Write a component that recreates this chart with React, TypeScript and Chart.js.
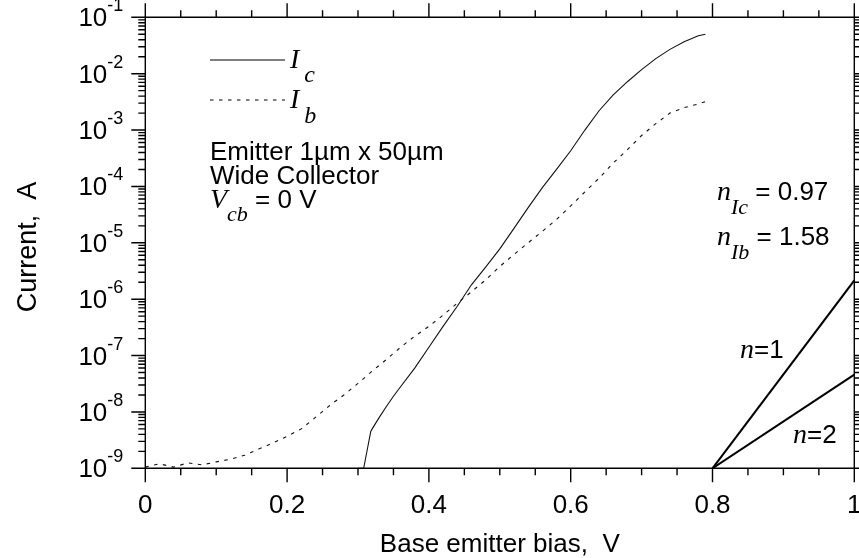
import React, { useEffect, useRef } from "react";
import { Chart, registerables } from "chart.js";

Chart.register(...registerables);

// Base current Ib (A) against base-emitter bias (V)
const ibBias = [0, 0.02, 0.04, 0.06, 0.08, 0.1, 0.12, 0.14, 0.16, 0.18, 0.2, 0.22, 0.24, 0.26, 0.28, 0.3, 0.32, 0.34, 0.36, 0.38, 0.4, 0.42, 0.44, 0.46, 0.48, 0.5, 0.52, 0.54, 0.56, 0.58, 0.6, 0.62, 0.64, 0.66, 0.68, 0.7, 0.72, 0.74, 0.76, 0.78, 0.79];
const ibAmps = [1.05e-9, 1.2e-9, 1.05e-9, 1.25e-9, 1.15e-9, 1.3e-9, 1.45e-9, 1.7e-9, 2.2e-9, 2.8e-9, 3.7e-9, 5.0e-9, 8.0e-9, 1.3e-8, 2.0e-8, 3.2e-8, 5.3e-8, 8.5e-8, 1.4e-7, 2.2e-7, 3.3e-7, 5.2e-7, 8.5e-7, 1.35e-6, 2.2e-6, 3.8e-6, 6.2e-6, 1.0e-5, 1.6e-5, 2.6e-5, 4.5e-5, 8.0e-5, 1.4e-4, 2.6e-4, 4.5e-4, 8.0e-4, 1.3e-3, 2.0e-3, 2.5e-3, 2.9e-3, 3.2e-3];

// Collector current Ic (A) against base-emitter bias (V)
const icBias = [0.3, 0.308, 0.318, 0.32, 0.33, 0.34, 0.35, 0.36, 0.38, 0.4, 0.42, 0.44, 0.46, 0.48, 0.5, 0.52, 0.54, 0.56, 0.58, 0.6, 0.62, 0.64, 0.66, 0.68, 0.7, 0.72, 0.74, 0.76, 0.78, 0.79];
const icAmps = [1e-9, 1e-9, 4.5e-9, 5.0e-9, 8e-9, 1.25e-8, 1.9e-8, 2.8e-8, 6e-8, 1.4e-7, 3.3e-7, 7.5e-7, 1.8e-6, 3.7e-6, 7.8e-6, 1.8e-5, 4.2e-5, 9.5e-5, 2.0e-4, 4.3e-4, 1.0e-3, 2.2e-3, 4.2e-3, 7.2e-3, 1.18e-2, 1.85e-2, 2.7e-2, 3.7e-2, 4.7e-2, 5.0e-2];

// Ideality reference slopes n=1 and n=2
const refBias = [0.8, 1.0];
const refN1 = [1e-9, 2.15e-6];
const refN2 = [1e-9, 4.6e-8];

// Axis ticks
const xMajorTicks = [0, 0.2, 0.4, 0.6, 0.8, 1];
const xTickLabels = ["0", "0.2", "0.4", "0.6", "0.8", "1"];
const xMinorTicks = [0.05, 0.1, 0.15, 0.25, 0.3, 0.35, 0.45, 0.5, 0.55, 0.65, 0.7, 0.75, 0.85, 0.9, 0.95];
const yDecades = [-9, -8, -7, -6, -5, -4, -3, -2, -1];
const yMinorMultipliers = [2, 3, 4, 5, 6, 7, 8, 9];

const SANS = '"Liberation Sans", Arial, sans-serif';
const SERIF = '"Liberation Serif", "Times New Roman", serif';

type Run = { text: string; font: string; dy?: number; dx?: number };

function runsWidth(ctx: CanvasRenderingContext2D, runs: Run[]) {
  let w = 0;
  for (const r of runs) {
    ctx.font = r.font;
    w += ctx.measureText(r.text).width + (r.dx || 0);
  }
  return w;
}

function drawRuns(ctx: CanvasRenderingContext2D, runs: Run[], x: number, y: number, align: "left" | "center" | "right" = "left") {
  const w = runsWidth(ctx, runs);
  let cx = align === "left" ? x : align === "center" ? x - w / 2 : x - w;
  ctx.textAlign = "left";
  ctx.textBaseline = "alphabetic";
  for (const r of runs) {
    ctx.font = r.font;
    cx += r.dx || 0;
    ctx.fillText(r.text, cx, y + (r.dy || 0));
    cx += ctx.measureText(r.text).width;
  }
}

const framePlugin = {
  id: "frameAndText",
  afterDatasetsDraw(chart: any) {
    const ctx: CanvasRenderingContext2D = chart.ctx;
    const xs = chart.scales.x;
    const ys = chart.scales.y;
    const { left, right, top, bottom } = chart.chartArea;
    const MAJ = 14;
    const MIN = 7;

    ctx.save();
    ctx.strokeStyle = "#000";
    ctx.fillStyle = "#000";
    ctx.lineWidth = 1.4;

    // frame
    ctx.beginPath();
    ctx.rect(left, top, right - left, bottom - top);
    ctx.stroke();

    // x ticks on top and bottom, pointing outwards
    ctx.beginPath();
    for (const v of xMajorTicks) {
      const px = xs.getPixelForValue(v);
      ctx.moveTo(px, bottom); ctx.lineTo(px, bottom + MAJ);
      ctx.moveTo(px, top); ctx.lineTo(px, top - MAJ);
    }
    for (const v of xMinorTicks) {
      const px = xs.getPixelForValue(v);
      ctx.moveTo(px, bottom); ctx.lineTo(px, bottom + MIN);
      ctx.moveTo(px, top); ctx.lineTo(px, top - MIN);
    }
    // y ticks on left and right, pointing outwards
    for (const d of yDecades) {
      const py = ys.getPixelForValue(Math.pow(10, d));
      ctx.moveTo(left, py); ctx.lineTo(left - MAJ, py);
      ctx.moveTo(right, py); ctx.lineTo(right + MAJ, py);
      if (d < -1) {
        for (const m of yMinorMultipliers) {
          const pm = ys.getPixelForValue(m * Math.pow(10, d));
          ctx.moveTo(left, pm); ctx.lineTo(left - MIN, pm);
          ctx.moveTo(right, pm); ctx.lineTo(right + MIN, pm);
        }
      }
    }
    ctx.stroke();

    // x tick labels
    xMajorTicks.forEach((v, i) => {
      drawRuns(ctx, [{ text: xTickLabels[i], font: `26px ${SANS}` }], xs.getPixelForValue(v), bottom + 45, "center");
    });
    // y tick labels as powers of ten
    for (const d of yDecades) {
      const py = ys.getPixelForValue(Math.pow(10, d));
      drawRuns(ctx, [
        { text: "10", font: `26px ${SANS}` },
        { text: String(d), font: `18px ${SANS}`, dy: -15 },
      ], left - 22, py + 9, "right");
    }

    // axis titles
    drawRuns(ctx, [{ text: "Base emitter bias,  V", font: `26px ${SANS}` }], (left + right) / 2, 552, "center");
    ctx.save();
    ctx.translate(36, 247);
    ctx.rotate(-Math.PI / 2);
    drawRuns(ctx, [{ text: "Current,  A", font: `27px ${SANS}` }], 0, 0, "center");
    ctx.restore();

    // legend
    ctx.lineWidth = 1;
    ctx.beginPath();
    ctx.moveTo(210, 60); ctx.lineTo(285, 60);
    ctx.stroke();
    ctx.setLineDash([3.5, 5.5]);
    ctx.beginPath();
    ctx.moveTo(210, 100); ctx.lineTo(285, 100);
    ctx.stroke();
    ctx.setLineDash([]);
    drawRuns(ctx, [
      { text: "I", font: `italic 28px ${SERIF}` },
      { text: "c", font: `italic 24px ${SERIF}`, dy: 14, dx: 5 },
    ], 290, 68);
    drawRuns(ctx, [
      { text: "I", font: `italic 28px ${SERIF}` },
      { text: "b", font: `italic 24px ${SERIF}`, dy: 15, dx: 5 },
    ], 290, 108);

    // device description
    drawRuns(ctx, [{ text: "Emitter 1\u00b5m x 50\u00b5m", font: `26px ${SANS}` }], 210, 160);
    drawRuns(ctx, [{ text: "Wide Collector", font: `26px ${SANS}` }], 210, 184);
    drawRuns(ctx, [
      { text: "V", font: `italic 28px ${SERIF}` },
      { text: "cb", font: `italic 22px ${SERIF}`, dy: 13 },
      { text: " = 0 V", font: `26px ${SANS}` },
    ], 210, 208);

    // ideality factors
    drawRuns(ctx, [
      { text: "n", font: `italic 28px ${SERIF}` },
      { text: "Ic", font: `italic 22px ${SERIF}`, dy: 14 },
      { text: " = 0.97", font: `26px ${SANS}` },
    ], 717, 200);
    drawRuns(ctx, [
      { text: "n", font: `italic 28px ${SERIF}` },
      { text: "Ib", font: `italic 22px ${SERIF}`, dy: 14 },
      { text: " = 1.58", font: `26px ${SANS}` },
    ], 717, 245);

    // reference slope labels
    drawRuns(ctx, [
      { text: "n", font: `italic 28px ${SERIF}` },
      { text: "=1", font: `26px ${SANS}` },
    ], 740, 358);
    drawRuns(ctx, [
      { text: "n", font: `italic 28px ${SERIF}` },
      { text: "=2", font: `26px ${SANS}` },
    ], 793, 443);

    ctx.restore();
  },
};

export default function App() {
  const canvasRef = useRef<HTMLCanvasElement | null>(null);

  useEffect(() => {
    const canvas = canvasRef.current;
    if (!canvas) return;
    const toPoints = (xv: number[], yv: number[]) => xv.map((x, i) => ({ x, y: yv[i] }));
    const chart = new Chart(canvas, {
      type: "scatter",
      data: {
        datasets: [
          {
            label: "Ic",
            data: toPoints(icBias, icAmps),
            showLine: true,
            borderColor: "#111",
            borderWidth: 1.1,
            pointRadius: 0,
            tension: 0,
          },
          {
            label: "Ib",
            data: toPoints(ibBias, ibAmps),
            showLine: true,
            borderColor: "#111",
            borderWidth: 1.1,
            borderDash: [3.5, 5.5],
            pointRadius: 0,
            tension: 0,
          },
          {
            label: "n=1",
            data: toPoints(refBias, refN1),
            showLine: true,
            borderColor: "#000",
            borderWidth: 2,
            pointRadius: 0,
          },
          {
            label: "n=2",
            data: toPoints(refBias, refN2),
            showLine: true,
            borderColor: "#000",
            borderWidth: 2,
            pointRadius: 0,
          },
        ],
      },
      options: {
        responsive: false,
        animation: false,
        devicePixelRatio: 1,
        layout: { padding: { left: 145.3, right: 4.7, top: 17.3, bottom: 89.7 } },
        plugins: { legend: { display: false }, tooltip: { enabled: false } },
        scales: {
          x: { type: "linear", min: 0, max: 1, display: false },
          y: { type: "logarithmic", min: 1e-9, max: 1e-1, display: false },
        },
      },
      plugins: [framePlugin],
    });
    return () => chart.destroy();
  }, []);

  return (
    <div style={{ position: "fixed", left: 0, top: 0, width: 859, height: 558, background: "#fff" }}>
      <canvas ref={canvasRef} width={859} height={558} style={{ display: "block" }} />
    </div>
  );
}
